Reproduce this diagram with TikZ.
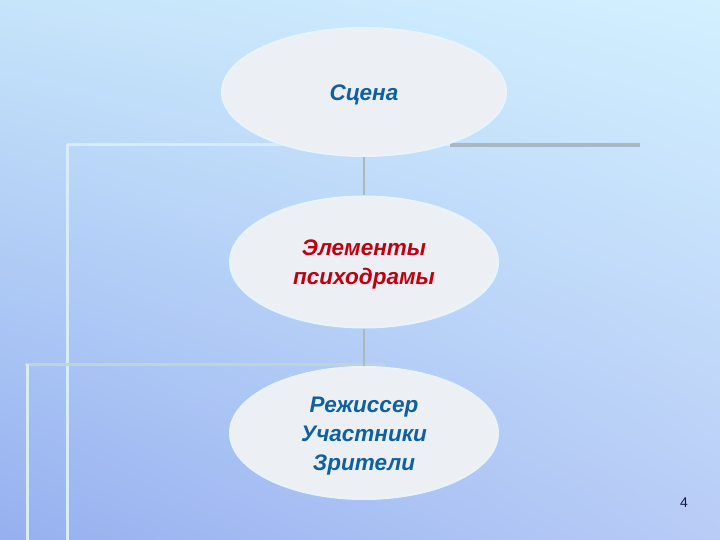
\documentclass[tikz,border=0pt]{standalone}
\usepackage{fontspec}
\setmainfont{Liberation Sans}
\usetikzlibrary{shapes.geometric,shadings}
\definecolor{bgUL}{RGB}{198,228,250}
\definecolor{bgUR}{RGB}{210,240,255}
\definecolor{bgLL}{RGB}{150,176,240}
\definecolor{bgLR}{RGB}{184,204,246}
\definecolor{ellfill}{RGB}{236,240,244}
\definecolor{ellrim}{RGB}{232,244,252}
\definecolor{txtblue}{RGB}{16,96,160}
\definecolor{txtred}{RGB}{192,0,16}
\definecolor{connc}{RGB}{170,184,192}
\definecolor{decolight}{RGB}{214,236,248}
\definecolor{decogray}{RGB}{168,184,192}
\definecolor{decogreen}{RGB}{190,212,216}
\definecolor{navy}{RGB}{16,24,64}
\tikzset{
  bubble/.style={ellipse, fill=ellfill, draw=ellrim, line width=2pt, inner sep=0pt},
  bubbletext/.style={inner sep=0pt, align=center,
    font=\fontsize{22.5}{29}\selectfont\bfseries\itshape},
  conn/.style={draw=connc, line width=1.5pt},
  deco/.style={line width=3pt}
}
\begin{document}
\begin{tikzpicture}[x=1pt,y=-1pt]
\shade[upper left=bgUL, upper right=bgUR, lower left=bgLL, lower right=bgLR] (0,0) rectangle (720,540);
\useasboundingbox (0,0) rectangle (720,540);
% decorative template lines
\coordinate (d1a) at (67,144);
\coordinate (d1b) at (67,540);
\coordinate (d2a) at (67,145);
\coordinate (d2m) at (450,145);
\coordinate (d2b) at (640,145);
\coordinate (d3a) at (25,364);
\coordinate (d3b) at (385,364);
\coordinate (d4a) at (27,364);
\coordinate (d4b) at (27,540);
\draw[deco, draw=decolight] (d1a) -- (d1b);
\draw[deco, draw=decolight] (d2a) -- (d2m);
\draw[line width=4pt, draw=decogray] (d2m) -- (d2b);
\draw[deco, draw=decogreen] (d3a) -- (d3b);
\draw[deco, draw=decolight] (d4a) -- (d4b);
% nodes
\node[bubble, minimum width=284, minimum height=128] (scena) at (364,92) {};
\node[bubble, minimum width=268, minimum height=131] (elem) at (364,262) {};
\node[bubble, minimum width=268, minimum height=132] (roles) at (364,433) {};
\node[bubbletext, text=txtblue] (scenaT) at ([yshift=-3pt]scena.center) {Сцена};
\node[bubbletext, text=txtred] (elemT) at ([yshift=-2.5pt]elem.center) {Элементы\\психодрамы};
\node[bubbletext, text=txtblue] (rolesT) at ([yshift=-3.5pt]roles.center) {Режиссер\\Участники\\Зрители};
\draw[conn] (scena.south) -- (elem.north);
\draw[conn] (elem.south) -- (roles.north);
\node[text=navy, font=\fontsize{14}{16}\selectfont] (pnum) at (684,503) {4};
\end{tikzpicture}
\end{document}
